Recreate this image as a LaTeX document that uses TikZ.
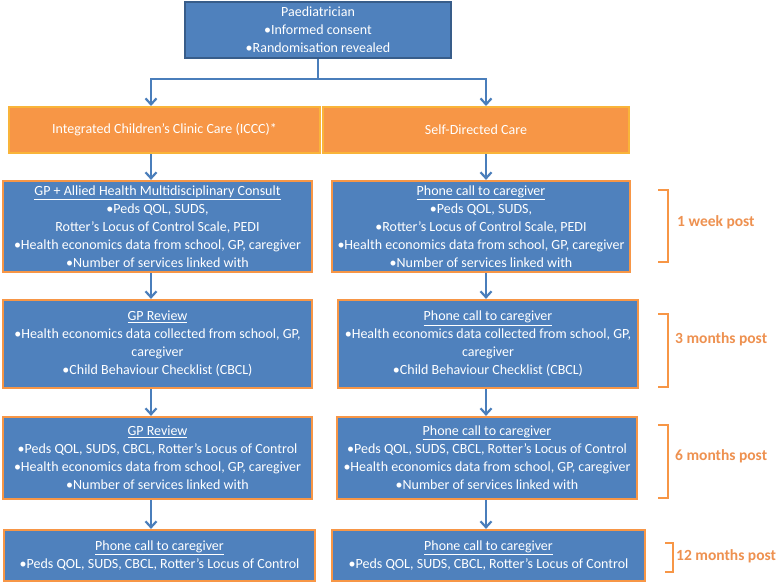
\documentclass[tikz,border=0pt]{standalone}
\usepackage{fontspec}
\setmainfont{Carlito}
\usetikzlibrary{arrows.meta}
\definecolor{boxblue}{HTML}{4F81BD}
\definecolor{darkblue}{HTML}{385D8A}
\definecolor{boxorange}{HTML}{F79646}
\definecolor{goldedge}{HTML}{F9B43A}
\definecolor{lineblue}{HTML}{4A7EBB}
\definecolor{lblorange}{HTML}{EE9150}
\tikzset{
  txt/.style={text=white, align=center, font=\fontsize{14}{18}\selectfont, inner sep=0pt},
  bluebox/.style={txt, rectangle, fill=boxblue, draw=boxorange, line width=2.2pt},
  topbox/.style={txt, rectangle, fill=boxblue, draw=darkblue, line width=1.5pt},
  orangebox/.style={txt, rectangle, fill=boxorange, draw=goldedge, line width=2pt},
  arr/.style={draw=lineblue, line width=2.2pt, -{Straight Barb[length=6pt,width=11pt]}},
  brk/.style={draw=boxorange, line width=2pt},
  lbl/.style={text=lblorange, font=\fontsize{15.5}{18}\selectfont\bfseries, anchor=west, inner sep=0pt}
}
\begin{document}
\begin{tikzpicture}[x=1pt,y=-1pt]
\useasboundingbox (0,0) rectangle (778,583);
\fill[white] (0,0) rectangle (778,583);

% top
\node[topbox, minimum width=266pt, minimum height=56pt] (top) at (318,30)
  {Paediatrician\\•Informed consent\\•Randomisation revealed};

% orange
\node[orangebox, minimum width=311pt, minimum height=46pt] (ol) at (164.5,130)
  {Integrated Children’s Clinic Care (ICCC)*};
\node[orangebox, minimum width=306pt, minimum height=46pt] (or) at (476,130)
  {Self-Directed Care};

% row 1
\node[bluebox, minimum width=309pt, minimum height=91pt] (l1) at (157.5,226.5)
  {\underline{GP + Allied Health Multidisciplinary Consult}\\•Peds QOL, SUDS,\\Rotter’s Locus of Control Scale, PEDI\\•Health economics data from school, GP, caregiver\\•Number of services linked with};
\node[bluebox, minimum width=298pt, minimum height=91pt] (r1) at (481,226.5)
  {\underline{Phone call to caregiver}\\•Peds QOL, SUDS,\\•Rotter’s Locus of Control Scale, PEDI\\•Health economics data from school, GP, caregiver\\•Number of services linked with};

% row 2
\node[bluebox, minimum width=309pt, minimum height=88pt] (l2) at (157.5,344)
  {\underline{GP Review}\\•Health economics data collected from school, GP,\\caregiver\\•Child Behaviour Checklist (CBCL)};
\node[bluebox, minimum width=300pt, minimum height=88pt] (r2) at (488,344)
  {\underline{Phone call to caregiver}\\•Health economics data collected from school, GP,\\caregiver\\•Child Behaviour Checklist (CBCL)};

% row 3
\node[bluebox, minimum width=309pt, minimum height=82pt] (l3) at (157.5,458)
  {\underline{GP Review}\\•Peds QOL, SUDS, CBCL, Rotter’s Locus of Control\\•Health economics data from school, GP, caregiver\\•Number of services linked with};
\node[bluebox, minimum width=300pt, minimum height=82pt] (r3) at (487,458)
  {\underline{Phone call to caregiver}\\•Peds QOL, SUDS, CBCL, Rotter’s Locus of Control\\•Health economics data from school, GP, caregiver\\•Number of services linked with};

% row 4
\node[bluebox, minimum width=311pt, minimum height=51pt] (l4) at (159.5,555.5)
  {\underline{Phone call to caregiver}\\•Peds QOL, SUDS, CBCL, Rotter’s Locus of Control};
\node[bluebox, minimum width=313pt, minimum height=51pt] (r4) at (488.5,555.5)
  {\underline{Phone call to caregiver}\\•Peds QOL, SUDS, CBCL, Rotter’s Locus of Control};

% connectors
\coordinate (cl) at (151,79);
\coordinate (cr) at (486,79);
\draw[arr] (top.south) -- (top.south |- cl) -- (cl) -- (ol.north -| cl);
\draw[arr] (top.south |- cr) -- (cr) -- (or.north -| cr);
\draw[arr] (ol.south -| cl) -- (l1.north -| cl);
\draw[arr] (or.south -| cr) -- (r1.north -| cr);
\draw[arr] (l1.south -| cl) -- (l2.north -| cl);
\draw[arr] (r1.south -| cr) -- (r2.north -| cr);
\draw[arr] (l2.south -| cl) -- (l3.north -| cl);
\draw[arr] (r2.south -| cr) -- (r3.north -| cr);
\draw[arr] (l3.south -| cl) -- (l4.north -| cl);
\draw[arr] (r3.south -| cr) -- (r4.north -| cr);

% brackets and labels
\draw[brk] (658,190) -- (668,190) -- (668,262) -- (658,262);
\node[lbl] (t1) at (677,222) {1 week post};
\draw[brk] (658,314) -- (668,314) -- (668,387) -- (658,387);
\node[lbl] (t2) at (675,339) {3 months post};
\draw[brk] (658,425) -- (668,425) -- (668,498) -- (658,498);
\node[lbl] (t3) at (675,456) {6 months post};
\draw[brk] (665,543) -- (673,543) -- (673,572) -- (665,572);
\node[lbl] (t4) at (676,556) {12 months post};
\end{tikzpicture}
\end{document}
